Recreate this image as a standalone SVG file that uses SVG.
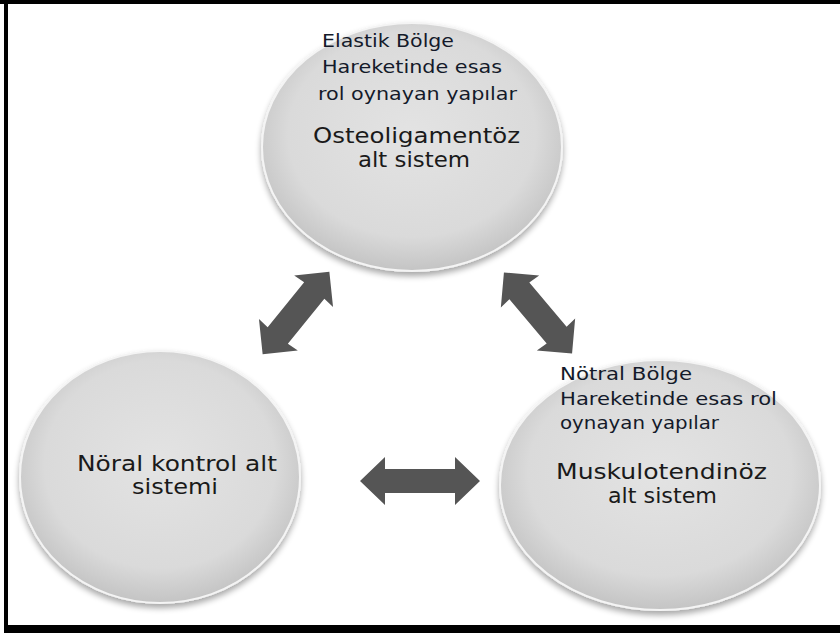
<svg xmlns="http://www.w3.org/2000/svg" width="840" height="633" viewBox="0 0 840 633">
<style>
.desc{font-family:"DejaVu Sans","Liberation Sans",sans-serif;font-size:18px;fill:#141a2a}
.lbl{font-family:"DejaVu Sans","Liberation Sans",sans-serif;font-size:21px;fill:#1a1a1a}
.ball{fill:url(#ballGrad);stroke:#f4f4f4;stroke-width:2;filter:url(#shadow)}
.arrow{fill:#555555}
</style>
<defs>
<radialGradient id="ballGrad" cx="0.5" cy="0.45" r="0.55">
<stop offset="0" stop-color="#e3e3e3"/>
<stop offset="0.75" stop-color="#dadada"/>
<stop offset="1" stop-color="#c4c4c4"/>
</radialGradient>
<filter id="shadow" x="-10%" y="-10%" width="120%" height="125%">
<feGaussianBlur in="SourceAlpha" stdDeviation="3"/>
<feOffset dx="0" dy="4" result="b"/>
<feComponentTransfer><feFuncA type="linear" slope="0.35"/></feComponentTransfer>
<feMerge><feMergeNode/><feMergeNode in="SourceGraphic"/></feMerge>
</filter>
<path id="dbl" d="M-53 0 L-28 -25 L-29 -13 L29 -13 L28 -25 L53 0 L28 25 L29 13 L-29 13 L-28 25 Z"/>
<path id="dblh" d="M-60 0 L-35 -24 L-35 -12 L35 -12 L35 -24 L60 0 L35 24 L35 12 L-35 12 L-35 24 Z"/>
</defs>
<rect x="0" y="0" width="840" height="633" fill="#ffffff"/>
<rect x="0" y="0" width="840" height="4" fill="#000"/>
<rect x="4" y="0" width="4" height="633" fill="#000"/>
<rect x="4" y="625" width="836" height="8" fill="#000"/>

<g id="connectors">
<use href="#dbl" class="arrow" transform="translate(296 313) rotate(-51)"/>
<use href="#dbl" class="arrow" transform="translate(538 313) rotate(50)"/>
<use href="#dblh" class="arrow" transform="translate(420 481)"/>
</g>

<g id="node-osteo">
<ellipse class="ball" cx="412" cy="147" rx="150" ry="124"/>
<text class="desc" x="322" y="47" textLength="132" lengthAdjust="spacingAndGlyphs">Elastik Bölge</text>
<text class="desc" x="322" y="73" textLength="180" lengthAdjust="spacingAndGlyphs">Hareketinde esas</text>
<text class="desc" x="318" y="100" textLength="199" lengthAdjust="spacingAndGlyphs">rol oynayan yapılar</text>
<text class="lbl" x="313" y="143" textLength="207" lengthAdjust="spacingAndGlyphs">Osteoligamentöz</text>
<text class="lbl" x="358" y="167" textLength="112" lengthAdjust="spacingAndGlyphs">alt sistem</text>
</g>

<g id="node-noral">
<ellipse class="ball" cx="160" cy="477" rx="140" ry="126"/>
<text class="lbl" x="77" y="471" textLength="200" lengthAdjust="spacingAndGlyphs">Nöral kontrol alt</text>
<text class="lbl" x="132" y="494" textLength="86" lengthAdjust="spacingAndGlyphs">sistemi</text>
</g>

<g id="node-muskulo">
<ellipse class="ball" cx="660" cy="485" rx="160" ry="125"/>
<text class="desc" x="560" y="380" textLength="132" lengthAdjust="spacingAndGlyphs">Nötral Bölge</text>
<text class="desc" x="560" y="405" textLength="217" lengthAdjust="spacingAndGlyphs">Hareketinde esas rol</text>
<text class="desc" x="560" y="429" textLength="159" lengthAdjust="spacingAndGlyphs">oynayan yapılar</text>
<text class="lbl" x="556" y="479" textLength="211" lengthAdjust="spacingAndGlyphs">Muskulotendinöz</text>
<text class="lbl" x="608" y="503" textLength="109" lengthAdjust="spacingAndGlyphs">alt sistem</text>
</g>
</svg>
